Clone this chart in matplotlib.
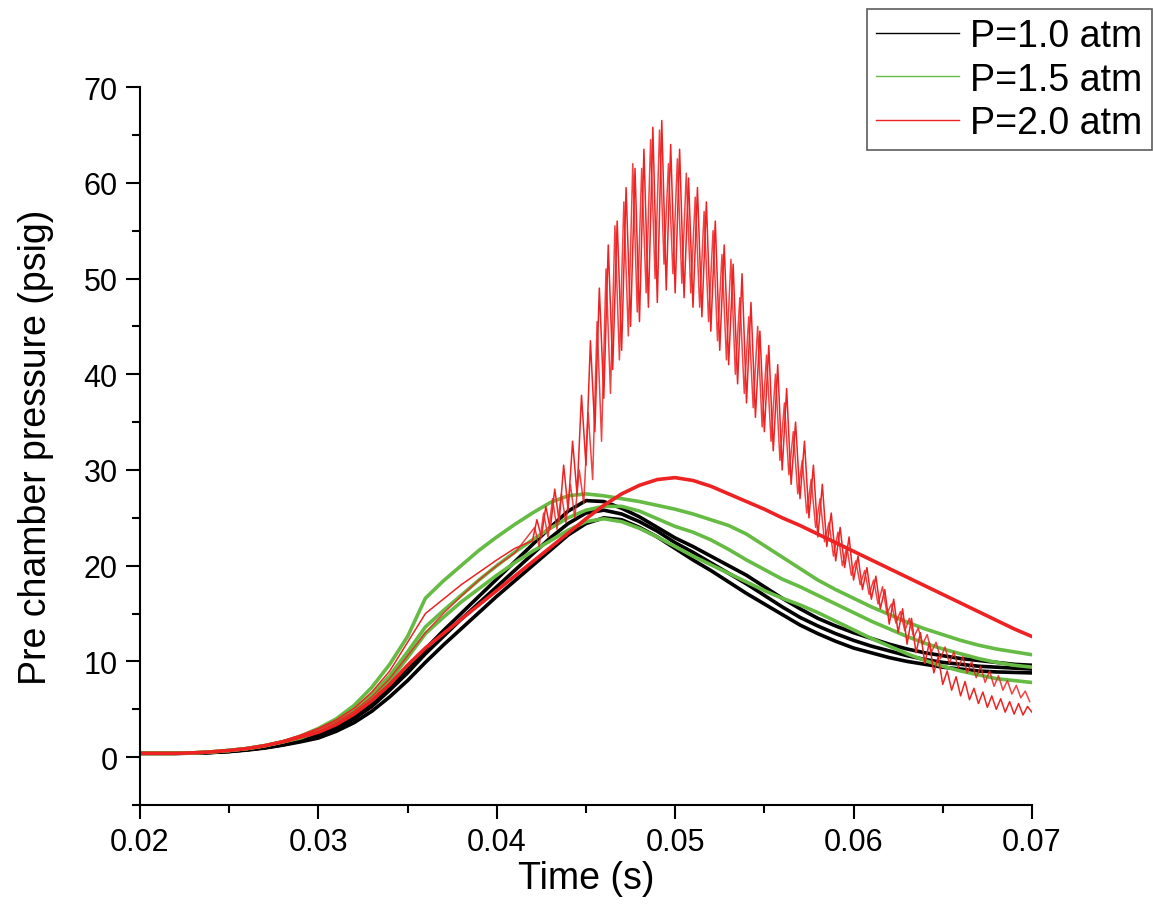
import numpy as np
import matplotlib
matplotlib.use('Agg')
import matplotlib.pyplot as plt
from matplotlib.ticker import MultipleLocator

plt.rcParams['font.family'] = ['Liberation Sans', 'DejaVu Sans']

# time base of the slow curves, one value per ms
t_slow = np.arange(0.020, 0.0705, 0.001)

# P = 1.0 atm runs
b1 = [0.4, 0.4, 0.4, 0.42, 0.5, 0.6, 0.78, 1.0, 1.3, 1.7,
      2.3, 3.1, 4.2, 5.6, 7.4, 9.3, 11.3, 13.2, 15.0, 16.8,
      18.6, 20.4, 22.2, 24.0, 25.7, 26.8, 26.7, 26.0, 25.1, 24.0,
      22.9, 22.0, 21.0, 20.0, 19.0, 17.8, 16.6, 15.5, 14.5, 13.7,
      13.0, 12.4, 11.8, 11.3, 10.9, 10.6, 10.3, 10.1, 9.9, 9.7, 9.6]
b2 = [0.4, 0.4, 0.4, 0.42, 0.5, 0.6, 0.78, 1.0, 1.3, 1.7,
      2.2, 3.0, 4.0, 5.3, 7.0, 8.8, 10.8, 12.6, 14.4, 16.1,
      17.8, 19.5, 21.2, 22.9, 24.4, 25.5, 25.8, 25.4, 24.6, 23.6,
      22.4, 21.4, 20.3, 19.2, 18.1, 16.9, 15.7, 14.6, 13.7, 12.9,
      12.2, 11.6, 11.1, 10.6, 10.2, 9.9, 9.7, 9.5, 9.4, 9.3, 9.2]
b3 = [0.4, 0.4, 0.4, 0.42, 0.48, 0.58, 0.74, 0.95, 1.25, 1.6,
      2.0, 2.7, 3.6, 4.8, 6.3, 8.0, 9.9, 11.7, 13.4, 15.1,
      16.8, 18.4, 20.0, 21.6, 23.2, 24.4, 25.0, 24.8, 24.0, 23.0,
      21.8, 20.6, 19.5, 18.3, 17.1, 16.0, 14.9, 13.8, 12.9, 12.1,
      11.4, 10.9, 10.4, 10.0, 9.7, 9.4, 9.2, 9.0, 8.9, 8.85, 8.8]

# P = 1.5 atm runs
g1 = [0.4, 0.4, 0.4, 0.45, 0.55, 0.7, 0.9, 1.2, 1.6, 2.2,
      3.0, 4.0, 5.4, 7.3, 9.7, 12.6, 16.6, 18.4, 20.0, 21.6,
      23.0, 24.3, 25.5, 26.6, 27.3, 27.5, 27.3, 27.0, 26.7, 26.3,
      25.9, 25.4, 24.8, 24.2, 23.3, 22.1, 20.9, 19.7, 18.5, 17.5,
      16.6, 15.7, 14.9, 14.1, 13.4, 12.8, 12.2, 11.7, 11.3, 11.0, 10.7]
g2 = [0.4, 0.4, 0.4, 0.45, 0.55, 0.7, 0.9, 1.2, 1.6, 2.1,
      2.8, 3.7, 4.9, 6.5, 8.5, 11.0, 13.6, 15.3, 16.9, 18.5,
      20.0, 21.4, 22.7, 23.9, 25.0, 25.8, 26.2, 26.2, 25.7, 24.9,
      24.1, 23.5, 22.7, 21.7, 20.6, 19.6, 18.6, 17.8, 16.9, 16.0,
      15.1, 14.2, 13.4, 12.6, 11.9, 11.3, 10.8, 10.3, 9.9, 9.6, 9.4]
g3 = [0.4, 0.4, 0.4, 0.45, 0.55, 0.7, 0.9, 1.2, 1.6, 2.0,
      2.7, 3.5, 4.6, 6.1, 8.0, 10.4, 12.9, 14.6, 16.2, 17.6,
      19.0, 20.3, 21.5, 22.6, 23.7, 24.6, 24.9, 24.6, 23.9, 23.0,
      22.0, 21.0, 20.1, 19.2, 18.3, 17.4, 16.6, 15.9, 15.1, 14.2,
      13.3, 12.4, 11.6, 10.8, 10.1, 9.5, 9.0, 8.6, 8.2, 8.0, 7.8]

# P = 2.0 atm, the run that stays smooth
r1 = [0.4, 0.4, 0.4, 0.45, 0.55, 0.7, 0.9, 1.2, 1.6, 2.1,
      2.6, 3.4, 4.5, 5.9, 7.6, 9.6, 11.4, 12.9, 14.4, 15.9,
      17.4, 18.9, 20.4, 21.9, 23.4, 24.9, 26.3, 27.5, 28.4, 29.0,
      29.2, 28.9, 28.3, 27.5, 26.7, 25.9, 25.0, 24.2, 23.3, 22.4,
      21.5, 20.6, 19.7, 18.8, 17.9, 17.0, 16.1, 15.2, 14.3, 13.4, 12.6]

# P = 2.0 atm, the two runs that ring: rise (1 ms steps) then peaks/troughs
t_rise = np.arange(0.020, 0.0415, 0.001)
r2_rise = [0.4, 0.4, 0.4, 0.45, 0.55, 0.7, 0.9, 1.25, 1.7, 2.3, 3.0,
           3.9, 5.1, 6.8, 9.0, 12.0, 15.0, 16.5, 18.0, 19.3, 20.6, 21.8]
r3_rise = [0.4, 0.4, 0.4, 0.45, 0.55, 0.7, 0.9, 1.2, 1.65, 2.2, 2.9,
           3.7, 4.8, 6.3, 8.2, 10.6, 13.0, 15.0, 16.8, 18.5, 20.0, 21.3]

t_r2 = 0.042 + 0.00025 * np.arange(113)
r2_osc = [22.6, 24.8, 23.0, 26.2, 23.8, 28.0, 24.6, 30.5,
          25.8, 33.0, 27.5, 37.8, 30.5, 43.5, 34.0, 49.0,
          37.5, 53.5, 40.5, 56.0, 42.5, 59.5, 45.0, 61.5,
          45.5, 63.5, 47.0, 65.8, 47.5, 66.5, 48.8, 64.0,
          48.5, 63.5, 48.0, 60.5, 47.0, 59.5, 46.0, 58.0,
          44.5, 56.0, 42.5, 53.5, 41.0, 51.5, 39.0, 50.5,
          37.0, 47.5, 35.5, 44.5, 34.0, 43.0, 32.0, 41.0,
          30.0, 38.5, 28.5, 35.0, 27.0, 33.0, 25.0, 30.5,
          23.0, 28.5, 22.0, 25.5, 20.5, 24.0, 19.8, 23.0,
          18.5, 21.0, 17.5, 19.8, 16.5, 18.9, 15.5, 17.5,
          13.9, 16.5, 13.0, 15.5, 11.8, 14.5, 10.9, 13.0,
          9.8, 12.0, 8.8, 10.5, 7.6, 9.0, 7.0, 8.4,
          6.4, 7.9, 6.0, 7.2, 5.6, 6.8, 5.2, 6.4,
          5.0, 6.1, 4.7, 5.8, 4.5, 5.6, 4.4, 5.3,
          4.7]

t_r3 = 0.042125 + 0.00025 * np.arange(112)
r3_osc = [24.0, 22.0, 25.5, 23.0, 27.0, 23.8, 27.5, 24.5,
          28.5, 25.0, 30.0, 26.5, 36.0, 29.0, 45.5, 33.0,
          51.0, 38.0, 55.5, 41.5, 58.0, 44.0, 62.0, 46.5,
          61.5, 48.5, 64.5, 50.0, 65.5, 51.5, 62.0, 50.5,
          62.5, 49.5, 61.0, 48.5, 58.5, 47.0, 57.0, 45.5,
          55.0, 43.5, 52.5, 41.5, 52.0, 40.0, 48.0, 38.0,
          46.0, 36.5, 45.0, 34.5, 42.0, 33.0, 40.0, 31.0,
          37.0, 29.5, 34.0, 27.5, 31.0, 25.5, 29.0, 24.0,
          27.0, 22.5, 24.5, 21.0, 23.5, 20.0, 22.0, 19.0,
          20.5, 18.0, 19.5, 17.0, 18.5, 16.0, 17.8, 15.0,
          16.0, 14.0, 15.2, 13.2, 14.5, 12.5, 13.5, 11.8,
          12.8, 11.0, 12.0, 10.3, 11.5, 9.8, 11.0, 9.3,
          10.5, 8.8, 10.0, 8.3, 9.5, 7.8, 9.0, 7.4,
          8.5, 7.0, 8.0, 6.6, 7.5, 6.2, 6.9, 5.8]

labels = ['P=1.0 atm', 'P=1.5 atm', 'P=2.0 atm']
colors = ['#000000', '#66bb44', '#ee2222']

fig = plt.figure(figsize=(11.53, 9.2), dpi=100)
ax = fig.add_axes([0.1214, 0.1239, 0.7736, 0.7804])

for y in (b1, b2, b3):
    ax.plot(t_slow, y, color=colors[0], lw=2.6)
for y in (g1, g2, g3):
    ax.plot(t_slow, y, color=colors[1], lw=2.6)
ax.plot(t_slow, r1, color=colors[2], lw=2.6)
ax.plot(np.concatenate([t_rise, t_r2]), r2_rise + r2_osc, color=colors[2], lw=1.1)
ax.plot(np.concatenate([t_rise, t_r3]), r3_rise + r3_osc, color=colors[2], lw=1.1, alpha=0.85)

# legend handles only
handles = [ax.plot([], [], color=c, lw=1)[0] for c in colors]
leg = fig.legend(handles, labels, loc='upper right', bbox_to_anchor=(0.999, 0.989),
                 fontsize=27, frameon=True, fancybox=False, edgecolor='#333333',
                 handlelength=2.2, handletextpad=0.3, borderpad=0.25, labelspacing=0.19,
                 borderaxespad=0)
leg.get_frame().set_linewidth(1.2)

ax.set_xlim(0.02, 0.07)
ax.set_ylim(-5, 70)
ax.xaxis.set_minor_locator(MultipleLocator(0.005))
ax.yaxis.set_minor_locator(MultipleLocator(5))
ax.set_xticks([0.02, 0.03, 0.04, 0.05, 0.06, 0.07])
ax.set_xticklabels(['0.02', '0.03', '0.04', '0.05', '0.06', '0.07'])
ax.set_yticks([0, 10, 20, 30, 40, 50, 60, 70])

for s in ('top', 'right'):
    ax.spines[s].set_visible(False)
for s in ('left', 'bottom'):
    ax.spines[s].set_linewidth(1.5)
ax.tick_params(which='major', direction='out', length=10, width=1.5, labelsize=22, pad=6)
ax.tick_params(which='minor', direction='out', length=6, width=1.5)

ax.set_xlabel('Time (s)', fontsize=27, labelpad=2)
ax.set_ylabel('Pre chamber pressure (psig)', fontsize=27, labelpad=21)

fig.savefig('out.png', dpi=100)
